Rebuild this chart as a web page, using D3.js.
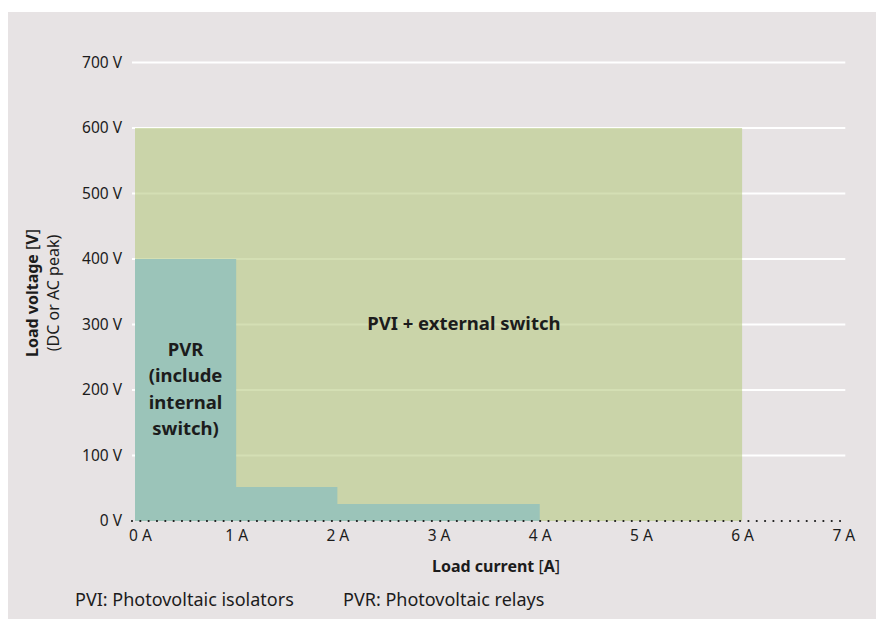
<!DOCTYPE html>
<html>
<head>
<meta charset="utf-8">
<script src="https://cdn.jsdelivr.net/npm/d3@7"></script>
<style>
  html, body { margin: 0; padding: 0; background: #ffffff; }
  svg { display: block; }
  text { font-family: "Noto Sans", "Open Sans", sans-serif; fill: #1c1c1c; }
</style>
</head>
<body>
<svg id="chart" width="876" height="619"></svg>
<script>
// Operating ranges: load current (A) vs. load voltage (V)
const currentTicks = [0, 1, 2, 3, 4, 5, 6, 7];
const voltageTicks = [0, 100, 200, 300, 400, 500, 600, 700];
const currentTickLabels = ["0 A", "1 A", "2 A", "3 A", "4 A", "5 A", "6 A", "7 A"];
const voltageTickLabels = ["0 V", "100 V", "200 V", "300 V", "400 V", "500 V", "600 V", "700 V"];

// PVR (relay) envelope as stepped segments
const pvrCurrentFrom = [0, 1, 2];
const pvrCurrentTo = [1, 2, 4];
const pvrVoltage = [400, 52, 26];

// PVI + external switch envelope
const pviCurrentFrom = [0];
const pviCurrentTo = [6];
const pviVoltage = [600];

const pvrLabelLines = ["PVR", "(include", "internal", "switch)"];
const pviLabel = "PVI + external switch";
const footnotes = ["PVI: Photovoltaic isolators", "PVR: Photovoltaic relays"];

const svg = d3.select("#chart");

// panel background
svg.append("rect")
  .attr("x", 8).attr("y", 12)
  .attr("width", 868).attr("height", 607)
  .attr("fill", "#e7e3e4");

const x = d3.scaleLinear().domain([0, 7]).range([135, 843.3]);
const y = d3.scaleLinear().domain([0, 700]).range([521, 62.5]);

// horizontal grid lines (zero is drawn as the dotted baseline instead)
svg.append("g")
  .selectAll("line")
  .data(voltageTicks.filter(v => v > 0))
  .join("line")
  .attr("x1", x(0) - 3).attr("x2", x(7) + 2)
  .attr("y1", d => y(d)).attr("y2", d => y(d))
  .attr("stroke", "#ffffff")
  .attr("stroke-width", 1.8);

// closed step outline for a set of [from, to, voltage] segments
function stepOutline(from, to, volts) {
  const pts = [[from[0], 0]];
  volts.forEach((v, i) => { pts.push([from[i], v]); pts.push([to[i], v]); });
  pts.push([to[to.length - 1], 0]);
  return d3.line().x(d => x(d[0])).y(d => y(d[1]))(pts) + "Z";
}

// PVI area (translucent so the grid shows through)
svg.append("path")
  .attr("d", stepOutline(pviCurrentFrom, pviCurrentTo, pviVoltage))
  .attr("fill", "rgb(184,202,130)")
  .attr("fill-opacity", 0.6);

// PVR area
svg.append("path")
  .attr("d", stepOutline(pvrCurrentFrom, pvrCurrentTo, pvrVoltage))
  .attr("fill", "#9bc4b9");

// dotted zero baseline
svg.append("line")
  .attr("x1", x(0) - 3).attr("x2", x(7))
  .attr("y1", y(0)).attr("y2", y(0))
  .attr("stroke", "#1a1a1a")
  .attr("stroke-width", 2.2)
  .attr("stroke-linecap", "round")
  .attr("stroke-dasharray", "0,8.33");

// y axis labels
const yAxis = d3.axisLeft(y)
  .tickValues(voltageTicks)
  .tickFormat((d, i) => voltageTickLabels[i])
  .tickSize(0)
  .tickPadding(0);
const gy = svg.append("g").attr("transform", "translate(122,0)").call(yAxis);
gy.select(".domain").remove();
gy.selectAll("text")
  .attr("font-size", 15.5)
  .attr("font-family", "Noto Sans")
  .attr("fill", "#1c1c1c");

// x axis labels
const xAxis = d3.axisBottom(x)
  .tickValues(currentTicks)
  .tickFormat((d, i) => currentTickLabels[i])
  .tickSize(0)
  .tickPadding(0);
const gx = svg.append("g").attr("transform", "translate(0,530)").call(xAxis);
gx.select(".domain").remove();
gx.selectAll("text")
  .attr("font-size", 15.5)
  .attr("font-family", "Noto Sans")
  .attr("fill", "#1c1c1c")
  .attr("dy", "0.71em")
  .attr("dx", d => d === 0 ? 5 : 0);

// x axis title
const xt = svg.append("text")
  .attr("x", 496).attr("y", 572)
  .attr("text-anchor", "middle")
  .attr("font-size", 16);
xt.append("tspan").attr("font-weight", 700).text("Load current ");
xt.append("tspan").text("[");
xt.append("tspan").attr("font-weight", 700).text("A");
xt.append("tspan").text("]");

// y axis title (two lines)
const yt = svg.append("text")
  .attr("transform", "translate(38,293) rotate(-90)")
  .attr("text-anchor", "middle")
  .attr("font-size", 16);
yt.append("tspan").attr("font-weight", 700).text("Load voltage ");
yt.append("tspan").text("[");
yt.append("tspan").attr("font-weight", 700).text("V");
yt.append("tspan").text("]");
svg.append("text")
  .attr("transform", "translate(59,293) rotate(-90)")
  .attr("text-anchor", "middle")
  .attr("font-size", 16)
  .text("(DC or AC peak)");

// region labels
svg.append("text")
  .attr("x", x(3.25)).attr("y", y(300) + 5.5)
  .attr("text-anchor", "middle")
  .attr("font-size", 18.5)
  .attr("font-weight", 700)
  .text(pviLabel);

const pvrText = svg.append("text")
  .attr("text-anchor", "middle")
  .attr("font-size", 18.5)
  .attr("font-weight", 700);
pvrText.selectAll("tspan")
  .data(pvrLabelLines)
  .join("tspan")
  .attr("x", x(0.5))
  .attr("y", (d, i) => y(200) + 5.5 + (i - 1.5) * 26.3)
  .text(d => d);

// footnote
svg.append("text").attr("x", 75).attr("y", 606).attr("font-size", 18).text(footnotes[0]);
svg.append("text").attr("x", 343).attr("y", 606).attr("font-size", 18).text(footnotes[1]);
</script>
</body>
</html>
